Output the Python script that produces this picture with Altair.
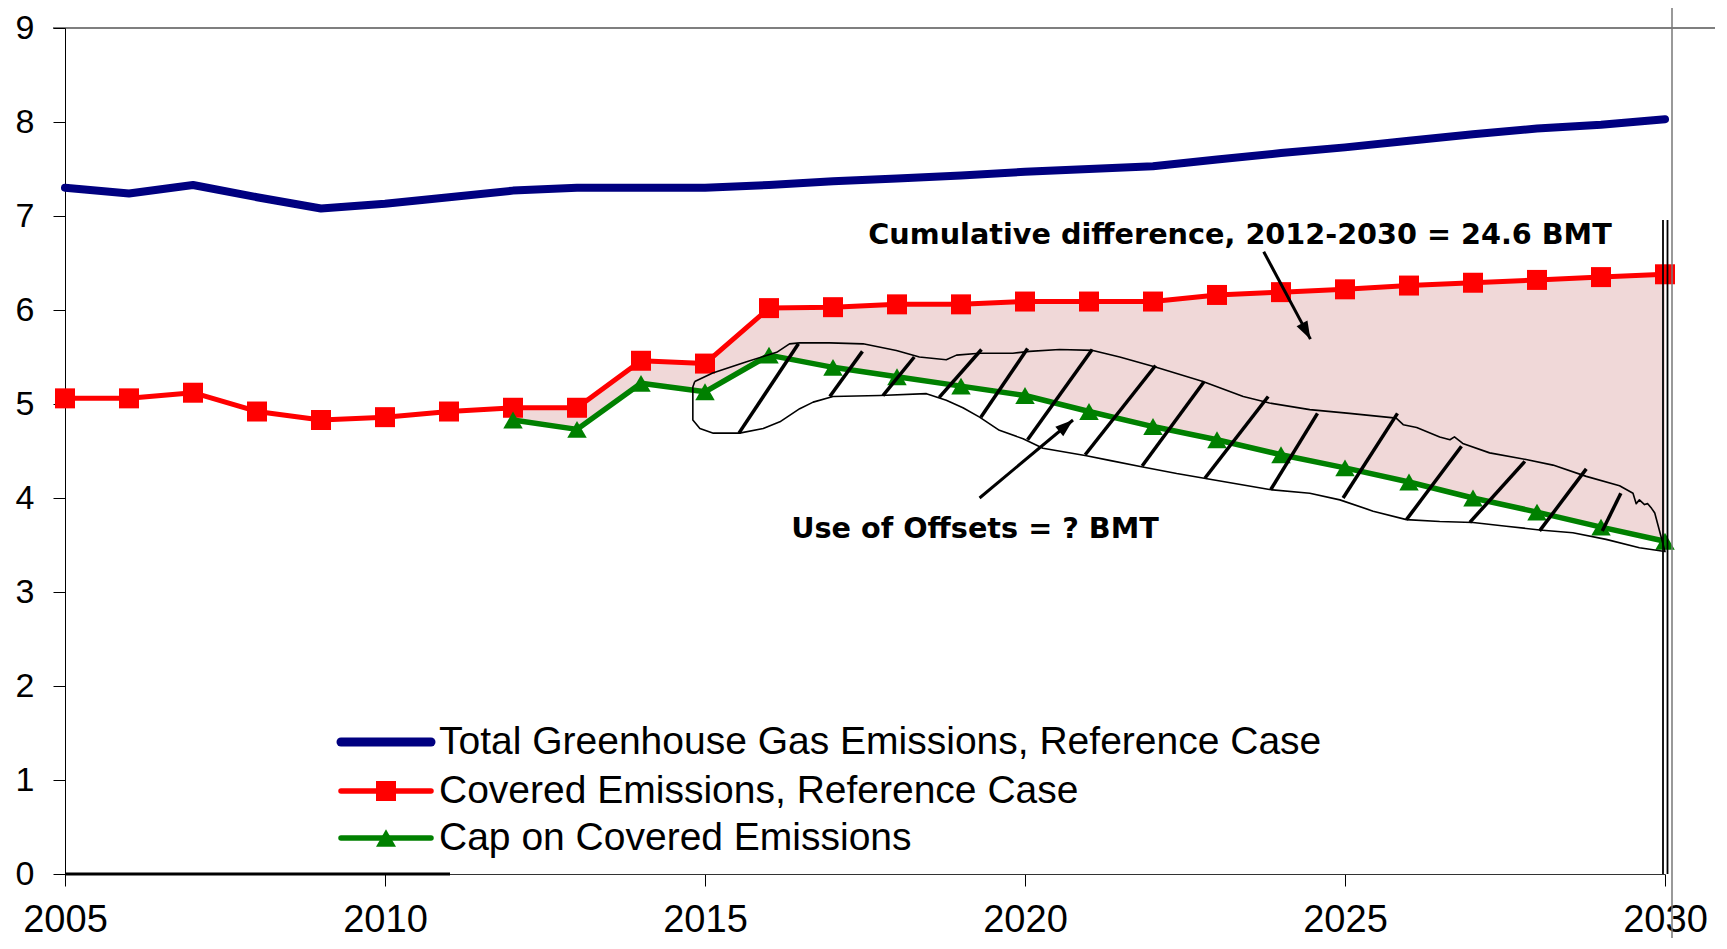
import altair as alt
import pandas as pd

# ---------------- data ----------------
years = list(range(2005, 2031))
total_ghg = [7.30, 7.24, 7.33, 7.20, 7.08, 7.13, 7.20, 7.27, 7.30, 7.30, 7.30, 7.33, 7.37,
             7.40, 7.43, 7.47, 7.50, 7.53, 7.60, 7.67, 7.73, 7.80, 7.87, 7.93, 7.97, 8.03]
covered = [5.06, 5.06, 5.12, 4.92, 4.83, 4.86, 4.92, 4.96, 4.96, 5.46, 5.43, 6.02, 6.03,
           6.06, 6.06, 6.09, 6.09, 6.09, 6.16, 6.19, 6.22, 6.26, 6.29, 6.32, 6.35, 6.38]
cap_years = list(range(2012, 2031))
cap = [4.83, 4.73, 5.22, 5.13, 5.52, 5.39, 5.29, 5.19, 5.09, 4.92, 4.76, 4.62, 4.46,
       4.32, 4.17, 4.00, 3.85, 3.69, 3.54]

series_names = ["Total Greenhouse Gas Emissions, Reference Case",
                "Covered Emissions, Reference Case",
                "Cap on Covered Emissions"]
x_ticks = [2005, 2010, 2015, 2020, 2025, 2030]
y_ticks = list(range(0, 10))

# hand-drawn "offsets" outline (year, value)
blob_year = [2014.84, 2015.12, 2015.65, 2016.12, 2016.32, 2016.48, 2016.95, 2017.47, 2017.99,
             2018.35, 2018.77, 2018.93, 2019.29, 2019.81, 2020.07, 2020.54, 2021.06, 2021.48,
             2022.05, 2022.78, 2023.41, 2023.82, 2024.45, 2025.07, 2025.80, 2025.91, 2026.12,
             2026.48, 2026.64, 2026.71, 2026.84, 2027.26, 2027.83, 2028.25, 2028.77, 2029.29,
             2029.50, 2029.55, 2029.60, 2029.68, 2029.73, 2029.79, 2029.84, 2030.00,
             2029.60, 2029.08, 2028.56, 2028.04, 2027.52, 2027.00, 2026.48, 2025.96, 2025.44,
             2024.92, 2024.45, 2023.82, 2022.89, 2022.37, 2021.84, 2021.32, 2020.96, 2020.28,
             2019.97, 2019.60, 2019.29, 2019.03, 2018.77, 2018.46, 2017.73, 2017.00, 2016.69,
             2016.48, 2016.17, 2015.91, 2015.54, 2015.13, 2014.92, 2014.81, 2014.81, 2014.84]
blob_value = [5.24, 5.33, 5.45, 5.55, 5.64, 5.65, 5.65, 5.64, 5.57,
              5.50, 5.47, 5.52, 5.54, 5.54, 5.56, 5.58, 5.57, 5.50,
              5.39, 5.24, 5.08, 5.01, 4.94, 4.90, 4.85, 4.78, 4.75,
              4.65, 4.62, 4.65, 4.58, 4.48, 4.41, 4.35, 4.23, 4.13,
              4.05, 3.94, 3.98, 3.93, 3.94, 3.89, 3.84, 3.43,
              3.47, 3.56, 3.63, 3.66, 3.70, 3.74, 3.75, 3.77, 3.86,
              3.98, 4.05, 4.09, 4.20, 4.26, 4.33, 4.40, 4.45, 4.53,
              4.63, 4.72, 4.86, 4.96, 5.04, 5.11, 5.09, 5.08, 5.02,
              4.95, 4.81, 4.74, 4.69, 4.69, 4.74, 4.83, 5.18, 5.24]

# hatch strokes (start year/value -> end year/value)
hatch_x1 = [2015.53, 2016.95, 2017.78, 2018.66, 2019.31, 2020.04, 2020.94, 2021.83,
            2022.81, 2023.84, 2024.97, 2025.96, 2026.95, 2028.04, 2029.02]
hatch_y1 = [4.69, 5.08, 5.09, 5.07, 4.86, 4.62, 4.46, 4.34, 4.21, 4.09, 4.00, 3.77, 3.74, 3.65, 3.65]
hatch_x2 = [2016.46, 2017.46, 2018.27, 2019.32, 2020.04, 2021.05, 2022.04, 2022.80,
            2023.80, 2024.57, 2025.82, 2026.82, 2027.81, 2028.77, 2029.31]
hatch_y2 = [5.64, 5.56, 5.50, 5.58, 5.59, 5.58, 5.41, 5.24, 5.08, 4.90, 4.90, 4.55, 4.39, 4.31, 4.05]

# arrows: tail -> tip
arrow_x1 = [2023.73, 2019.29]
arrow_y1 = [6.62, 4.00]
arrow_x2 = [2024.46, 2020.75]
arrow_y2 = [5.69, 4.83]
arrow_angle = [151.9, 50.0]

notes = ["Cumulative difference, 2012-2030 = 24.6 BMT", "Use of Offsets = ? BMT"]

# ---------------- frames ----------------
main_df = pd.DataFrame({"year": years, "total": total_ghg, "covered": covered})
cap_df = pd.DataFrame({"year": cap_years, "cap": cap})
fill_df = pd.DataFrame({"year": cap_years, "covered": covered[years.index(2012):], "cap": cap})
blob_df = pd.DataFrame({"year": blob_year, "value": blob_value, "i": range(len(blob_year))})
hatch_df = pd.DataFrame({"x1": hatch_x1, "y1": hatch_y1, "x2": hatch_x2, "y2": hatch_y2})
arrow_df = pd.DataFrame({"x1": arrow_x1, "y1": arrow_y1, "x2": arrow_x2, "y2": arrow_y2,
                         "angle": arrow_angle})

BLUE = "#000080"
RED = "#ff0000"
GREEN = "#008000"
FILL = "#f0d8d8"
AXFONT = "Liberation Sans"

xs = alt.Scale(domain=[2005, 2030], nice=False, zero=False)
ys = alt.Scale(domain=[0, 9], nice=False)
xax = alt.Axis(values=x_ticks, format="d", title=None, labelFontSize=38, labelPadding=15,
               labelFlush=False, domainColor="#333333")
yax = alt.Axis(values=y_ticks, title=None, labelFontSize=34, labelPadding=19,
               labelFlush=False, domainColor="#000000")


def X(f):
    return alt.X(f"{f}:Q", scale=xs, axis=xax)


def Y(f):
    return alt.Y(f"{f}:Q", scale=ys, axis=yax)


fill = alt.Chart(fill_df).mark_area(color=FILL, opacity=1).encode(
    x=X("year"), y=Y("covered"), y2="cap:Q")

blue = alt.Chart(main_df).mark_line(color=BLUE, strokeWidth=8, strokeCap="round",
                                    strokeJoin="round").encode(x=X("year"), y=Y("total"))

red_line = alt.Chart(main_df).mark_line(color=RED, strokeWidth=5, strokeJoin="round").encode(
    x=X("year"), y=Y("covered"))
red_pts = alt.Chart(main_df).mark_point(shape="square", filled=True, size=400, color=RED,
                                        opacity=1).encode(x=X("year"), y=Y("covered"))

green_line = alt.Chart(cap_df).mark_line(color=GREEN, strokeWidth=5.5, strokeJoin="round").encode(
    x=X("year"), y=Y("cap"))
green_pts = alt.Chart(cap_df).mark_point(shape="triangle-up", filled=True, size=380, color=GREEN,
                                         opacity=1).encode(x=X("year"), y=Y("cap"))

blob = alt.Chart(blob_df).mark_line(color="black", strokeWidth=1.6, strokeJoin="round").encode(
    x=X("year"), y=Y("value"), order="i:Q")

hatch = alt.Chart(hatch_df).mark_rule(color="black", strokeWidth=3.5).encode(
    x=X("x1"), y=Y("y1"), x2="x2:Q", y2="y2:Q")

arrow_shaft = alt.Chart(arrow_df).mark_rule(color="black", strokeWidth=3).encode(
    x=X("x1"), y=Y("y1"), x2="x2:Q", y2="y2:Q")
arrow_head = alt.Chart(arrow_df).mark_point(
    shape="M0,0L0.55,1.6L-0.55,1.6Z", filled=True, size=500, color="black", opacity=1
).encode(x=X("x2"), y=Y("y2"), angle=alt.Angle("angle:Q", scale=None))

note1 = alt.Chart(pd.DataFrame({"t": [notes[0]]})).mark_text(
    font="DejaVu Sans", fontWeight="bold", fontSize=28.7, color="black", align="center",
    baseline="middle").encode(x=alt.value(1175), y=alt.value(207), text="t:N")
note2 = alt.Chart(pd.DataFrame({"t": [notes[1]]})).mark_text(
    font="DejaVu Sans", fontWeight="bold", fontSize=28.7, color="black", align="center",
    baseline="middle").encode(x=alt.value(910), y=alt.value(501), text="t:N")

# decorative frame pieces seen in the original
top_line = alt.Chart(pd.DataFrame({"a": [0]})).mark_rule(color="#000000", strokeWidth=1.2).encode(
    x=alt.value(-12), x2=alt.value(1665), y=alt.value(0))
gray_v = alt.Chart(pd.DataFrame({"a": [0]})).mark_rule(color="#777777", strokeWidth=1.5).encode(
    x=alt.value(1607), y=alt.value(-30), y2=alt.value(935))
black_v1 = alt.Chart(pd.DataFrame({"a": [0]})).mark_rule(color="#000000", strokeWidth=1.8).encode(
    x=alt.value(1598), y=alt.value(192), y2=alt.value(846))
black_v2 = alt.Chart(pd.DataFrame({"a": [0]})).mark_rule(color="#000000", strokeWidth=1.8).encode(
    x=alt.value(1602.5), y=alt.value(192), y2=alt.value(846))
base_seg = alt.Chart(pd.DataFrame({"a": [0]})).mark_rule(color="#000000", strokeWidth=3).encode(
    x=alt.value(0), x2=alt.value(385), y=alt.value(846))

# legend (drawn inside the plot like the original)
leg_rows_y = [714, 763, 810]
leg_layers = []
for name, col, yy, shp, lw in zip(series_names, [BLUE, RED, GREEN], leg_rows_y,
                                  [None, "square", "triangle-up"], [9, 5.5, 5.5]):
    d = pd.DataFrame({"label": [name]})
    leg_layers.append(alt.Chart(d).mark_rule(color=col, strokeWidth=lw, strokeCap="round").encode(
        x=alt.value(276), x2=alt.value(366), y=alt.value(yy)))
    if shp:
        leg_layers.append(alt.Chart(d).mark_point(shape=shp, filled=True, size=400, color=col,
                                                  opacity=1).encode(x=alt.value(321), y=alt.value(yy)))
    leg_layers.append(alt.Chart(d).mark_text(font=AXFONT, fontSize=39, color="black", align="left",
                                             baseline="middle").encode(
        x=alt.value(374), y=alt.value(yy), text="label:N"))

chart = alt.layer(
    fill, blue, red_line, red_pts, green_line, green_pts, blob, hatch,
    arrow_shaft, arrow_head, note1, note2,
    top_line, gray_v, black_v1, black_v2, base_seg, *leg_layers
).properties(
    width=1600, height=846,
    padding={"left": 57, "top": 20, "right": 50, "bottom": 64},
    autosize=alt.AutoSizeParams(type="none"),
    background="white",
).configure_view(stroke=None).configure_axis(
    grid=False, labelFont=AXFONT, labelColor="black", tickColor="black", tickSize=12,
    tickWidth=1, domainWidth=1,
)

chart.save("out.html", embed_options={"renderer": "svg", "actions": False})
